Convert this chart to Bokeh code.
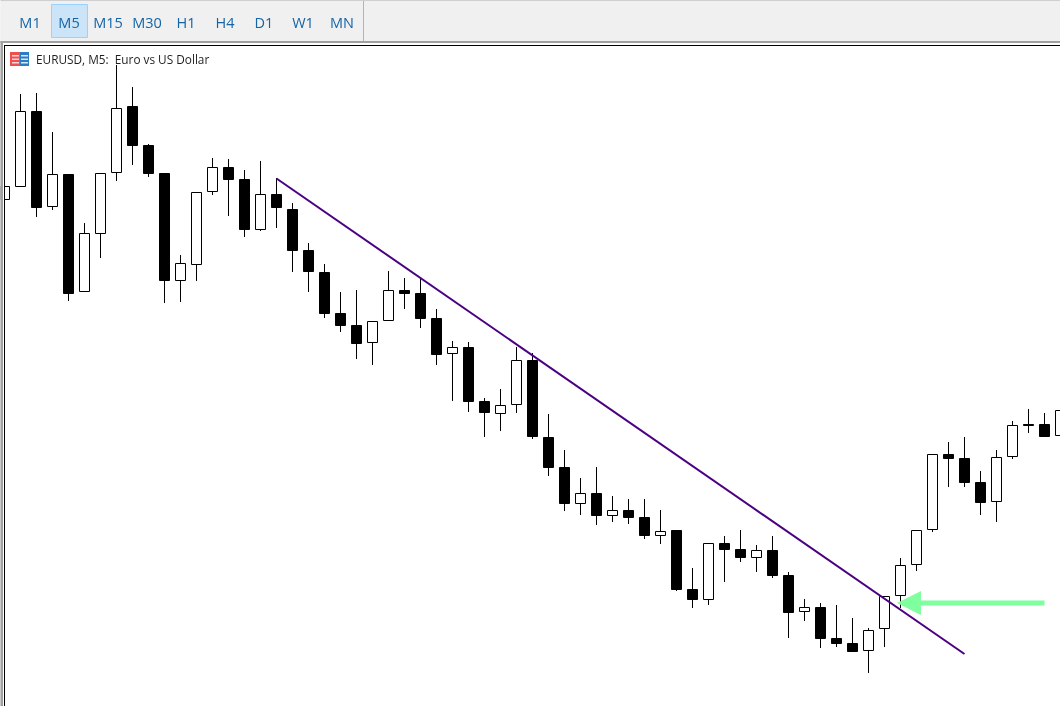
from bokeh.plotting import figure
from bokeh.models import Range1d
from bokeh.core.properties import value
from bokeh.embed import file_html
from bokeh.resources import INLINE

# Chart has no price scale: levels are in chart units measured up from the bottom edge.
opens  = [506,519,595,499,532,414,472,533,600,561,533,425,441,514,539,527,476,512,497,456,434,393,381,363,385,416,413,388,352,359,305,292,301,346,269,239,202,213,190,196,189,170,176,117,106,163,157,148,156,131,94,99,68,63,55,77,110,141,176,252,248,224,204,249,282,282,270]
highs  = [520,612,613,574,532,483,533,641,619,562,533,451,514,548,547,536,545,528,503,463,442,414,416,385,435,428,428,397,365,364,308,317,359,353,292,256,228,239,210,207,207,196,176,138,163,170,176,161,170,134,107,103,101,88,78,110,148,176,252,264,269,235,256,285,297,293,296]
lows   = [506,519,489,496,405,414,448,525,541,529,403,404,425,511,490,469,475,478,434,414,388,374,347,341,385,397,378,341,305,294,269,275,293,267,230,195,191,181,184,182,167,162,115,98,101,124,144,134,128,68,85,58,59,54,33,59,98,135,174,219,219,191,184,247,273,269,270]
closes = [520,595,498,532,412,473,533,598,560,532,425,443,514,539,526,476,512,498,455,434,392,380,362,385,416,412,387,351,359,304,293,301,346,269,238,202,213,190,196,188,170,175,116,106,163,156,148,156,130,93,99,67,62,54,76,110,141,176,252,247,223,203,249,281,280,269,296]
bars = list(range(len(opens)))

trend_bars = [17, 60]
trend_levels = [527.5, 52]
signal_bars = [65, 56.8]
signal_level = 103

timeframes = ["M1", "M5", "M15", "M30", "H1", "H4", "D1", "W1", "MN"]
active_timeframe = "M5"
title = "EURUSD, M5:\u00a0 Euro vs US Dollar"

# Bokeh's drawing context sits half a pixel off, so the ranges compensate for it.
p = figure(width=1060, height=706, output_backend="svg", toolbar_location=None,
           x_range=Range1d(-0.25, 66.0), y_range=Range1d(-0.5, 705.5),
           min_border=0, min_border_left=0, min_border_right=0, min_border_top=0, min_border_bottom=0,
           x_axis_location=None, y_axis_location=None,
           styles={"position": "fixed", "left": "0px", "top": "0px"})
p.outline_line_color = None
p.grid.visible = False
p.background_fill_color = "white"
p.border_fill_color = "white"
p.extra_x_ranges["px"] = Range1d(0.5, 1060.5)
p.extra_y_ranges["px"] = Range1d(706.5, 0.5)
PX = dict(x_range_name="px", y_range_name="px")

# candles
p.segment(bars, highs, bars, lows, line_color="black", line_width=1)
up = [i for i in bars if closes[i] >= opens[i]]
dn = [i for i in bars if closes[i] < opens[i]]
p.vbar(x=up, width=0.625, top=[closes[i] - 0.5 for i in up], bottom=[opens[i] + 0.5 for i in up],
       fill_color="white", line_color="black", line_width=1)
p.vbar(x=dn, width=0.625, top=[opens[i] - 0.5 for i in dn], bottom=[closes[i] + 0.5 for i in dn],
       fill_color="black", line_color="black", line_width=1)

# trend line
p.line(trend_bars, trend_levels, line_color="#4B0082", line_width=2)

# signal arrow
p.segment([signal_bars[0]], [signal_level], [signal_bars[1]], [signal_level], line_color="#80FF9F", line_width=5)
p.patch([897, 921, 921], [603, 591, 615], fill_color="#80FF9F", line_color=None, **PX)

# window chrome
def box(x0, x1, y0, y1, color, **kw):
    p.quad(left=[x0], right=[x1], top=[y0], bottom=[y1], fill_color=color, line_color=kw.get("line"), **PX)

box(0, 1060, 0, 45, "white")
box(0, 4, 0, 706, "#F0F0F0")
box(0, 3, 41, 706, "#A0A0A0")
box(3, 4, 41, 706, "white")
box(4, 5, 45, 706, "black")
box(0, 1060, 1, 41, "#F0F0F0")
box(0, 1060, 0, 1, "#A0A0A0")
box(0, 1060, 41, 43, "#A0A0A0")
box(4, 1060, 45, 46, "black")
box(363, 364, 1, 41, "#B4B4B4")
box(51.5, 87.5, 4.5, 37.5, "#CCE4F7", line="#99D1FF")

label_x = [30 + 39 * i for i in range(len(timeframes))]
p.text(label_x, [22] * len(timeframes), text=timeframes, text_align="center", text_baseline="middle",
       text_font=value("Open Sans"), text_font_size="14.5px", text_color="#1464A6", **PX)

# title icon
box(10, 20, 52, 66, "#F04F4F")
box(20, 29, 52, 66, "#2C7CC4")
for yy in (55, 58.5, 62):
    box(12, 19, yy, yy + 1.5, "#FBD5D5")
    box(21, 28, yy, yy + 1.5, "#D5E8F8")
p.text([36], [59], text=[title], text_align="left", text_baseline="middle",
       text_font=value("Open Sans"), text_font_size="11.8px", text_color="#1E1E1E", **PX)

open("out.html", "w").write(file_html(p, INLINE))
